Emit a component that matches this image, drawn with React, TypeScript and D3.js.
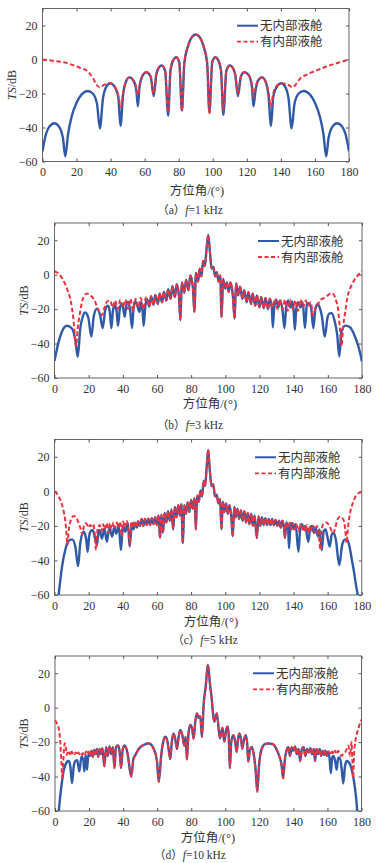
import React, { useEffect, useRef } from 'react'
import * as d3 from 'd3'

type Pt = [number, number]

const xTicks = [0, 20, 40, 60, 80, 100, 120, 140, 160, 180]
const yTicks = [-60, -40, -20, 0, 20]
const legendNames = ['无内部液舱', '有内部液舱']
const captions = [
  ['（a）', 'f', '=1 kHz'],
  ['（b）', 'f', '=3 kHz'],
  ['（c）', 'f', '=5 kHz'],
  ['（d）', 'f', '=10 kHz'],
]
const xLabel = '方位角/(°)'

// f = 1 kHz
const aBlue: Pt[] = [
  [0, -54], [2, -44], [4, -39.5], [7, -37.5], [10, -40], [12, -46], [13.4, -57], [15, -44], [17, -34], [20, -25.5],
  [23, -20.5], [26.6, -18.5], [29.5, -20], [32, -26], [33.7, -40.5], [35.5, -23], [37.5, -16], [39.8, -14], [42, -15.5],
  [44.5, -22], [45.8, -39], [47.3, -21], [49, -13], [51, -10.5], [53.5, -12.5], [55.2, -19], [56, -27.5], [57, -16],
  [59, -9], [61, -7.5], [63.5, -10], [65.3, -21.5], [66.8, -9], [68.5, -4.5], [70, -3.5], [72, -6.5], [73.8, -33],
  [75.2, -6], [77, 0], [78.5, 1.3], [80.3, -1.5], [81.9, -30], [83.3, -2], [85.5, 8], [88, 13.5], [90, 14.7], [92, 13.5],
  [94.5, 8], [96.7, -2], [98, -31], [99.7, -1.5], [101.5, 1.3], [103, 0], [104.8, -6], [106.2, -32.5], [108, -6.5],
  [110, -3.5], [111.5, -4.5], [113.2, -9], [114.8, -21.5], [116.5, -10], [118.5, -7.5], [121, -9], [123, -16],
  [123.9, -27.5], [125, -19], [126.5, -12.5], [129, -10.5], [131, -13], [132.7, -21], [134.2, -39], [135.5, -22],
  [138, -15.5], [140.2, -14], [142.5, -16], [144.5, -23], [146.3, -40.5], [148, -26], [150.5, -20], [153.4, -18.5],
  [157, -20.5], [160, -25.5], [163, -34], [165, -44], [166.6, -57], [168, -46], [170, -40], [173, -37.5], [176, -39.5],
  [178, -44], [180, -54],
]
const aRed: Pt[] = [
  [0, 0], [4, -0.5], [8, -1], [12, -1.6], [14, -2], [17, -3], [20, -4], [23, -5.3], [25.7, -6.3], [27.5, -8],
  [29.6, -10.8], [31.6, -14.7], [33.5, -16.3], [35.5, -15.3], [37.5, -14.3], [39.8, -14], [42, -15.5], [44.5, -21],
  [46, -28], [47.3, -20], [49, -13], [51, -10.5], [53.5, -12.5], [55.2, -17], [56, -21], [57, -15], [59, -9], [61, -7.5],
  [63.5, -10], [65.3, -20], [66.8, -9], [68.5, -4.5], [70, -3.5], [72, -6.5], [73.8, -31], [75.2, -6], [77, 0],
  [78.5, 1.3], [80.3, -1.5], [81.9, -30], [83.3, -2], [85.5, 8], [88, 13.5], [90, 14.7], [92, 13.5], [94.5, 8],
  [96.7, -2], [98, -32], [99.7, -1.5], [101.5, 1.3], [103, 0], [104.8, -6], [106.2, -30], [108, -6.5], [110, -3.5],
  [111.5, -4.5], [113.2, -9], [114.8, -20], [116.5, -10], [118.5, -7.5], [121, -9], [123, -15], [123.9, -22], [125, -17],
  [126.5, -12.5], [129, -10.5], [131, -13], [132.7, -19], [134.2, -28], [135.5, -20], [138, -15], [140.2, -14],
  [142.5, -14.3], [144.5, -15], [146, -16], [147.2, -16.3], [148.5, -15], [150, -12.8], [152, -10.6], [155, -9],
  [158, -7.6], [162, -6], [166, -4.4], [170, -3], [174, -1.8], [177, -0.9], [180, 0],
]

// f = 3 kHz
const bBlueLeft: Pt[] = [
  [0, -50], [2.4, -39], [4.4, -33], [7.3, -29.7], [10.2, -31.3], [12.2, -38], [13.6, -47.7], [15.1, -31], [16.5, -24.5],
  [18, -22], [19.8, -25], [21.6, -36], [23, -24], [24.9, -19.7], [26.8, -24], [28.2, -31], [29.8, -20], [31.3, -18],
  [32.3, -21], [33.3, -31], [34.2, -21], [35.2, -17.8], [36.3, -21], [37.2, -29.7], [38.2, -20], [39.1, -16.8],
  [40.1, -19], [41.1, -24.5], [42, -18], [43, -15.8], [44.2, -20], [45.4, -31], [46.3, -19], [47.3, -15.4], [48.5, -18],
  [49.7, -21.6], [50.8, -16], [51.5, -20], [52.2, -29.7], [53.2, -18], [54.2, -14.3],
]
const bRedLeft: Pt[] = [
  [0, 2], [3, 0], [6, -5], [8, -10], [9.6, -15.7], [11, -25], [12.6, -41.6], [13.5, -32], [15, -21.6], [17, -13],
  [19, -11], [21, -12], [23, -14.1], [25.8, -20.6], [27.7, -23.5], [29, -20], [30.7, -15.7], [32.6, -15], [34, -19],
  [35.5, -15], [37, -20], [38.5, -14.5], [40, -19], [41.5, -14.5], [43, -20], [44.5, -14], [46, -21], [47.5, -14],
  [49, -19], [50.5, -13.5], [52, -20], [53.5, -13.2],
]
const bMid: Pt[] = [
  [55.5, -18.5], [56.5, -12.5], [58, -17.5], [59, -11.8], [60.5, -17], [61.5, -11], [63, -16], [64, -10], [65.5, -15],
  [66.5, -8.5], [68, -14], [69, -6.5], [70.5, -13], [71.5, -5.5], [72.8, -12], [73.7, -26.5], [74.5, -4.5], [76, -10.5],
  [77, -3], [78.5, -9], [79.5, -0.5], [81, -7.5], [81.9, -21.6], [82.8, 1], [84, -4], [85, 3.5], [86, -1], [87, 8],
  [88, 5], [89, 15], [90, 23], [91, 13], [92, 3.5], [93, 4.5], [94, -1], [95, 1.5], [96, -4], [97, -0.5], [97.8, -24.5],
  [98.7, -2.5], [100, -8], [100.9, -4.5], [102, -10], [103, -4.5], [104.3, -11], [105.4, -25.5], [106.3, -5],
  [107.5, -12], [108.6, -7], [110, -14], [111, -9], [112.5, -16], [113.5, -10], [115, -17], [116, -11], [117.5, -18],
  [118.5, -12], [120, -19], [121, -13], [122.5, -19.5], [123.5, -13.5], [125, -20],
]
const bBlueRight: Pt[] = [
  [126, -14], [127.2, -19], [127.8, -30.5], [128.6, -19], [129.8, -14.5], [131, -19], [132, -15], [133.5, -21],
  [134.6, -31], [135.6, -19], [136.8, -15], [138, -19], [139.2, -15.5], [140, -21], [140.7, -32], [141.5, -20],
  [142.6, -16], [144, -19], [145.3, -16], [146.6, -31], [147.8, -17], [149, -16.5], [150.3, -20], [151.5, -31],
  [152.7, -20], [154, -17], [155.2, -19], [156.5, -24], [158.2, -36], [159.8, -25], [161, -22.5], [162.3, -22.4],
  [164, -27], [165.5, -35], [166.7, -47.5], [168, -33], [170.2, -29.6], [173, -30.5], [175.5, -35], [178, -42],
  [180, -50.4],
]
const bRedRight: Pt[] = [
  [126, -14], [127.5, -19], [129, -14], [130.5, -20], [132, -14.5], [133.5, -20], [135, -14.5], [136.5, -21], [138, -14.5],
  [139.5, -20], [141, -15], [142.5, -21], [144, -14.5], [145.5, -19], [147, -15], [148.5, -18], [150, -16], [151.3, -23.5],
  [152.8, -19], [154.5, -16.5], [156, -14.5], [158, -13.5], [160, -12], [161.8, -10.8], [163.3, -11.4], [164.8, -15],
  [166, -20], [167.2, -33], [168, -41.6], [169, -30], [170.2, -21.6], [171.5, -13], [173.1, -7.9], [175, -4],
  [177.1, -1], [180, 2],
]

// f = 5 kHz
const cBlueLeft: Pt[] = [
  [0, -80], [2.4, -60], [3.4, -51.4], [4.4, -43.7], [6.3, -34], [8.3, -28.6], [10.3, -27.8], [12.2, -32], [13.8, -43.3],
  [15.1, -30], [17.1, -23.4], [18.6, -28], [19.4, -35], [20.3, -26], [21, -23.4], [22.4, -22.4], [23.9, -28], [24.9, -31],
  [25.6, -25], [26.4, -22.4], [27.8, -27.3], [29.2, -21.5], [30.7, -29.2], [31.5, -24], [32.3, -21.5], [33.7, -26.3],
  [35, -20.9], [36.2, -24.4], [37.6, -19.5], [38.9, -34], [40.1, -20.1], [41.5, -23.4], [43, -18.6], [44, -32],
  [45.4, -18.6], [46.3, -22], [47.3, -18.5], [48.3, -21], [49, -17.6],
]
const cRedLeft: Pt[] = [
  [0, 0], [1.5, -1.5], [3.4, -5], [4.5, -8], [5.4, -11.8], [6.3, -17], [6.9, -23], [7.6, -31], [8.4, -22], [9.3, -17.6],
  [10.3, -15], [11.3, -14.3], [12.3, -14.6], [13.2, -16], [14.2, -18.5], [15.2, -21.4], [16.3, -25], [17.2, -20],
  [18.2, -18.5], [19, -19], [20, -21], [21, -19.5], [22, -20], [22.8, -19], [23.6, -25], [24.3, -34], [25.2, -22],
  [26.5, -19.5], [27.5, -23], [28.5, -19], [29.5, -22], [30.5, -18.5], [31.5, -24], [32.5, -18.5], [33.5, -22],
  [34.5, -18], [35.5, -21], [36.5, -18], [37.5, -21], [38.5, -17.5], [39.3, -26], [40.2, -17.5], [41.2, -21],
  [42.2, -17], [43.2, -21], [44, -31], [45, -17.5], [46, -21], [47, -17], [48, -20.5], [49, -17],
]
const cMid: Pt[] = [
  [50, -20], [51, -16], [52, -20], [53, -16], [54, -19.5], [55, -15.8], [56, -19.5], [57, -15.5], [58, -19], [59, -15],
  [60, -19.5], [61, -14], [61.8, -27], [62.6, -13.5], [63.5, -24], [64.5, -12.5], [65.5, -18], [66.5, -11.5],
  [67.5, -17], [68.5, -10.5], [69.5, -22], [70.5, -9], [71.5, -15], [72.5, -8], [73.5, -14], [74.3, -7.5], [75.2, -30],
  [76, -8], [77, -13], [78, -6.5], [79, -12], [80, -5], [81, -10], [82, -4], [82.8, -22], [83.5, -2.5], [84.5, -6],
  [85.5, 0.5], [86.5, -3], [87.3, 6], [88.2, 3], [89, 12], [90, 24], [91, 12], [92, 3], [93, 4], [94, -3], [95, -2],
  [96, -7], [97, -4.5], [97.8, -22], [98.6, -6], [99.5, -12], [100.5, -7], [101.5, -13], [102.5, -8], [103.5, -14],
  [104.4, -26], [105.3, -9], [106.2, -15], [107.2, -10], [108.2, -16], [109.2, -11], [110.2, -17], [111.2, -11.5],
  [112.2, -18], [113.2, -12.5], [114.2, -19], [115.2, -13], [116.2, -20], [117.2, -14], [118.5, -27], [119.5, -14.5],
  [120.5, -20], [121.5, -15], [122.5, -19.5], [123.5, -15.5], [124.5, -19.5], [125.5, -16], [126.5, -19.5],
  [127.5, -16], [128.5, -19.5], [129.5, -16.5], [130.5, -20], [131.5, -17], [132.5, -21], [133.5, -17], [134.4, -21],
]
const cBlueRight: Pt[] = [
  [135, -27], [135.8, -18], [136.8, -21], [137.4, -33], [138.2, -20], [139.2, -18.5], [140.2, -22], [141.2, -19],
  [142.9, -35], [144, -20.5], [145, -19], [146, -22], [146.8, -20], [148.7, -29.2], [149.8, -21], [150.8, -20],
  [152, -24], [153, -21], [154.2, -26], [155.2, -22], [156.5, -34], [157.7, -23], [158.8, -22], [159.8, -26],
  [161.2, -32], [162.4, -25], [163.5, -24], [164.8, -28], [166.8, -42.7], [168.5, -31], [170, -28], [171.5, -28],
  [173, -33], [174.2, -39.7], [175.5, -47], [176.4, -53], [177.6, -60], [180, -80],
]
const cRedRight: Pt[] = [
  [135, -27], [135.8, -18], [136.8, -21], [137.8, -18], [138.8, -22], [139.8, -18.5], [140.8, -22], [141.8, -19],
  [142.8, -23], [143.8, -19], [144.8, -22.5], [145.8, -19.5], [146.8, -23], [147.8, -19.5], [148.8, -24], [149.8, -20],
  [150.8, -23], [151.8, -20], [152.8, -24], [153.8, -20], [154.8, -25], [155.8, -34], [156.5, -22], [157.5, -19],
  [159.4, -18], [161, -20], [163.3, -24.3], [164.5, -21], [165.5, -17], [167.2, -14.7], [169.2, -16.3], [170.3, -22],
  [171.1, -30], [171.8, -22], [173.1, -12.8], [175, -6], [178, -1.1], [180, -0.5],
]

// f = 10 kHz
const dBlueLeft: Pt[] = [
  [0, -80], [2.2, -60], [3, -52], [4.1, -43], [5, -37], [6.1, -33.3], [7, -31.5], [8, -31], [9, -34], [10, -43.9],
  [11, -34], [11.9, -31], [13, -30.5], [14.3, -37], [15.5, -28.5], [16.6, -30], [17.2, -37], [18, -27.5], [18.8, -36],
  [19.6, -27],
]
const dRedLeft: Pt[] = [
  [0, -7.2], [1, -9], [2.2, -12], [3.1, -20], [3.7, -31], [4.3, -41], [4.9, -30], [5.7, -20.7], [6.5, -24], [7, -27.5],
  [7.6, -25], [8, -25.7], [8.8, -27], [9.4, -25], [10, -26.7], [10.8, -25.5], [11.5, -27], [12.3, -26], [13, -27.5],
  [13.8, -26], [14.5, -27], [15.3, -26], [16, -27.5], [16.8, -25.8], [17.5, -27], [18.3, -25.5], [19, -27], [19.8, -25.5],
]
const dMid: Pt[] = [
  [20.6, -28], [21.4, -25], [22.2, -28.5], [23, -24.5], [23.8, -27], [24.6, -24], [25.4, -28.5], [26.2, -24], [27, -27],
  [27.8, -23.5], [29, -34], [30, -23], [31, -28], [32, -22.5], [33, -27], [34, -23], [34.9, -35], [35.8, -23], [37, -22],
  [38, -26], [38.8, -35], [39.8, -24], [41, -22], [42.5, -26], [44.8, -40], [46, -30], [47.2, -27.5], [49.5, -23.5],
  [52, -21.7], [55, -20.7], [58, -24], [59.9, -31], [60.9, -43], [62.4, -27.5], [63.5, -20], [64.8, -16.9], [66, -19.5],
  [66.7, -24], [67.7, -29.8], [68.6, -20], [69.6, -15], [70.6, -18], [71.6, -24], [72.6, -17], [73.6, -13], [74.8, -16],
  [75.9, -22], [76.7, -17], [77.5, -30], [78.4, -15], [79.5, -10], [80.5, -12], [81.4, -18], [82.4, -8], [83.4, -3.3],
  [84.3, -6], [85.3, -5], [86.3, -17], [87.3, 2], [88.5, 12], [89.8, 25], [91, 14], [92, 5.4], [93.5, -8.2], [95, -3.4],
  [96.9, -17.8], [98.3, -11.6], [99.4, -19.7], [100.5, -13], [101.4, -11], [102, -16], [102.7, -35], [103.5, -20],
  [104.7, -16], [105.7, -19], [106.7, -25.7], [107.4, -19], [108.2, -15], [109.2, -18], [110, -23.8], [110.9, -19],
  [112, -16], [112.8, -20], [113.5, -31.3], [114.4, -25], [115.5, -22.8], [116.7, -27], [117.8, -36], [118.8, -48.8],
  [119.8, -34], [121.4, -23.8], [123.5, -21], [125.3, -20.8], [128.2, -21.3], [130, -24], [131.5, -27.5], [133, -33],
  [134, -41], [135, -30], [136, -24.8], [137, -23], [138, -28], [139, -23], [140, -25], [141, -22.5], [142, -27],
  [143, -24], [144, -31], [145, -24], [146, -23], [147, -28], [148, -24], [149, -26], [150, -23.5], [151, -27], [152, -24],
  [152.7, -31], [153.6, -24], [154.5, -27], [155.4, -24], [156.3, -28], [157.2, -25], [158, -27.5], [158.8, -25],
  [159.6, -28], [160.4, -25.5],
]
const dBlueRight: Pt[] = [
  [161.2, -29], [162, -38], [162.8, -29], [163.6, -28], [164.5, -31], [165.4, -36], [166.3, -29], [167.3, -29],
  [168.3, -35], [169.3, -44], [170.3, -34], [171.3, -31], [172.3, -31.5], [173.3, -33], [174.3, -36], [175.3, -41],
  [176.2, -47], [177, -54], [177.5, -60], [180, -80],
]
const dRedRight: Pt[] = [
  [161.2, -26], [162, -27.5], [162.8, -25.5], [163.6, -27], [164.5, -25], [165.4, -27], [166.3, -25], [167.3, -27],
  [168.4, -28], [169.3, -26.5], [170.3, -26], [171.3, -24], [172.3, -22], [173.2, -28], [173.7, -24], [174.1, -20],
  [174.6, -30], [175.1, -41], [175.6, -28], [176.3, -20], [177.1, -16], [178.5, -11], [179.5, -8], [180, -7],
]

const blueSeries: Pt[][] = [
  aBlue,
  [...bBlueLeft, ...bMid, ...bBlueRight],
  [...cBlueLeft, ...cMid, ...cBlueRight],
  [...dBlueLeft, ...dMid, ...dBlueRight],
]
const redSeries: Pt[][] = [
  aRed,
  [...bRedLeft, ...bMid, ...bRedRight],
  [...cRedLeft, ...cMid, ...cRedRight],
  [...dRedLeft, ...dMid, ...dRedRight],
]

const layout = [
  { left: 42.5, right: 349, top: 8.5, bottom: 161.5, legX: 237, legY: 25.7, xlabX: 197, xlabY: 194.5, capX: 190, capY: 214 },
  { left: 54.5, right: 362, top: 223, bottom: 378, legX: 258, legY: 241, xlabX: 210, xlabY: 407.5, capX: 190, capY: 429 },
  { left: 54.5, right: 361.8, top: 439.5, bottom: 595, legX: 255, legY: 457.3, xlabX: 211, xlabY: 626, capX: 205, capY: 644 },
  { left: 55, right: 361.5, top: 656, bottom: 811, legX: 253, legY: 673.3, xlabX: 208, xlabY: 841.5, capX: 190, capY: 859 },
]

const FONT = "'Liberation Serif', 'Times New Roman', 'Noto Sans CJK SC', serif"
const BLUE = '#2f5aa8'
const RED = '#ee3340'
const AX = '#555'
const TXT = '#333'

function App() {
  const ref = useRef<SVGSVGElement>(null)

  useEffect(() => {
    const svg = d3.select(ref.current)
    svg.selectAll('*').remove()

    layout.forEach((p, i) => {
      const x = d3.scaleLinear().domain([0, 180]).range([p.left, p.right])
      const y = d3.scaleLinear().domain([-60, 30]).range([p.bottom, p.top])
      const g = svg.append('g')

      const clipId = 'clip' + i
      svg.append('clipPath').attr('id', clipId)
        .append('rect')
        .attr('x', p.left).attr('y', p.top)
        .attr('width', p.right - p.left).attr('height', p.bottom - p.top)

      // axes, ticks on all four sides pointing inward
      const styleAxis = (sel: any) => {
        sel.select('.domain').remove()
        sel.selectAll('line').attr('stroke', AX)
        sel.selectAll('text').attr('fill', TXT).style('font-family', FONT).style('font-size', '12px')
      }
      g.append('g').attr('transform', `translate(0,${p.bottom})`)
        .call(d3.axisBottom(x).tickValues(xTicks).tickSize(-3).tickPadding(6))
        .call(styleAxis)
      g.append('g').attr('transform', `translate(0,${p.top})`)
        .call(d3.axisTop(x).tickValues(xTicks).tickSize(-3).tickFormat(() => ''))
        .call(styleAxis)
      g.append('g').attr('transform', `translate(${p.left},0)`)
        .call(d3.axisLeft(y).tickValues(yTicks).tickSize(-3).tickPadding(5))
        .call(styleAxis)
      g.append('g').attr('transform', `translate(${p.right},0)`)
        .call(d3.axisRight(y).tickValues(yTicks).tickSize(-3).tickFormat(() => ''))
        .call(styleAxis)

      g.append('rect')
        .attr('x', p.left).attr('y', p.top)
        .attr('width', p.right - p.left).attr('height', p.bottom - p.top)
        .attr('fill', 'none').attr('stroke', AX).attr('stroke-width', 0.9)

      const line = d3.line<Pt>()
        .x(d => x(d[0]))
        .y(d => y(d[1]))
        .curve(d3.curveMonotoneX)

      const plot = g.append('g').attr('clip-path', `url(#${clipId})`)
      plot.append('path')
        .attr('d', line(blueSeries[i]))
        .attr('fill', 'none').attr('stroke', BLUE).attr('stroke-width', 2.4)
        .attr('stroke-linejoin', 'round')
      plot.append('path')
        .attr('d', line(redSeries[i]))
        .attr('fill', 'none').attr('stroke', RED).attr('stroke-width', 2)
        .attr('stroke-dasharray', '4.5,2.5')

      // legend
      const colors = [BLUE, RED]
      legendNames.forEach((name, k) => {
        const ly = p.legY + k * 16
        g.append('line')
          .attr('x1', p.legX).attr('x2', p.legX + 21)
          .attr('y1', ly).attr('y2', ly)
          .attr('stroke', colors[k]).attr('stroke-width', k === 0 ? 2 : 1.8)
          .attr('stroke-dasharray', k === 0 ? null : '4,2.5')
        g.append('text')
          .attr('x', p.legX + 23).attr('y', ly + 4.5)
          .attr('fill', TXT)
          .style('font-family', FONT).style('font-size', '12.5px')
          .text(name)
      })

      // y label
      const yl = g.append('text')
        .attr('transform', `translate(${p.left - 27},${(p.top + p.bottom) / 2}) rotate(-90)`)
        .attr('text-anchor', 'middle')
        .attr('fill', TXT)
        .style('font-family', FONT).style('font-size', '12px')
      yl.append('tspan').style('font-style', 'italic').text('TS')
      yl.append('tspan').text('/dB')

      // x label
      g.append('text')
        .attr('x', p.xlabX).attr('y', p.xlabY)
        .attr('text-anchor', 'middle')
        .attr('fill', TXT)
        .style('font-family', FONT).style('font-size', '12.5px')
        .text(xLabel)

      // caption
      const cap = g.append('text')
        .attr('x', p.capX).attr('y', p.capY)
        .attr('text-anchor', 'middle')
        .attr('fill', TXT)
        .style('font-family', FONT).style('font-size', '11.5px')
      cap.append('tspan').text(captions[i][0])
      cap.append('tspan').style('font-style', 'italic').text(captions[i][1])
      cap.append('tspan').text(captions[i][2])
    })
  }, [])

  return (
    <div style={{ position: 'absolute', left: 0, top: 0 }}>
      <svg ref={ref} width={384} height={863} style={{ display: 'block', background: '#fff' }}></svg>
    </div>
  )
}

export default App
